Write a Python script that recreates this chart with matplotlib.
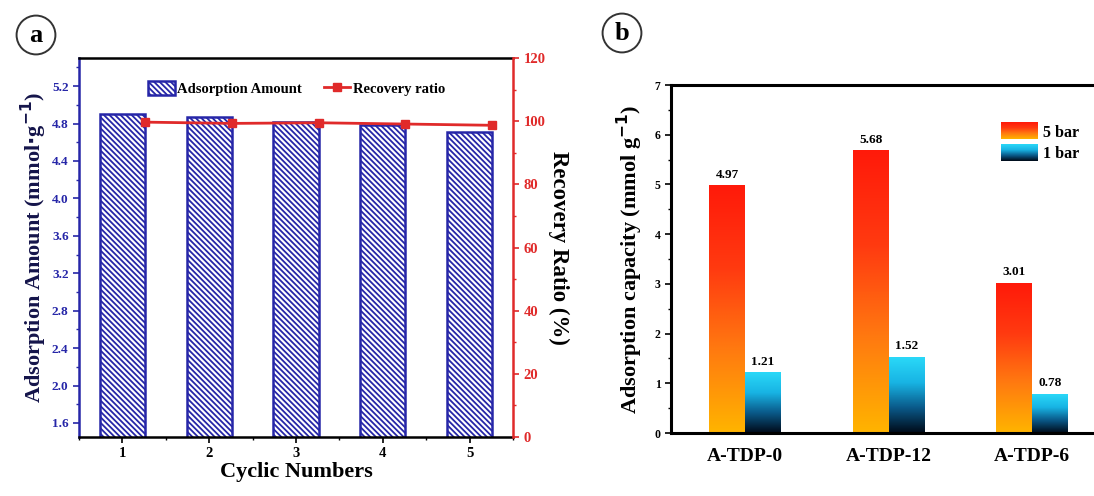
import matplotlib
matplotlib.use('Agg')
import matplotlib.pyplot as plt
import numpy as np
from matplotlib.colors import LinearSegmentedColormap
from matplotlib.patches import Patch
from matplotlib.legend_handler import HandlerBase
from matplotlib.image import BboxImage
from matplotlib.transforms import Bbox, TransformedBbox
from matplotlib.ticker import MultipleLocator

plt.rcParams['font.family'] = ['Liberation Serif', 'DejaVu Serif']
plt.rcParams['font.weight'] = 'bold'
plt.rcParams['axes.labelweight'] = 'bold'
plt.rcParams['mathtext.default'] = 'bf'
plt.rcParams['hatch.linewidth'] = 1.3

# panel a data
cycles = [1, 2, 3, 4, 5]
adsorption = [4.90, 4.87, 4.82, 4.78, 4.71]
recovery = [99.7, 99.3, 99.5, 99.1, 98.7]

# panel b data
samples = ['A-TDP-0', 'A-TDP-12', 'A-TDP-6']
cap_5bar = [4.97, 5.68, 3.01]
cap_1bar = [1.21, 1.52, 0.78]

blue = '#2626a8'
red = '#e02a2a'

cmap5 = LinearSegmentedColormap.from_list('c5', ['#ffb400', '#ff7a10', '#ff3a10', '#ff1a0a'])
cmap1 = LinearSegmentedColormap.from_list('c1', ['#000a18', '#0a5a8a', '#18b4e4', '#2ad8f8'])


class GradHandler(HandlerBase):
    def __init__(self, cmap):
        super().__init__()
        self.cmap = cmap

    def create_artists(self, legend, orig_handle, xdescent, ydescent,
                       width, height, fontsize, trans):
        bb = TransformedBbox(Bbox.from_bounds(-xdescent, -ydescent, width, height), trans)
        img = BboxImage(bb, cmap=self.cmap, interpolation='bilinear', origin='lower')
        img.set_data(np.linspace(0, 1, 64).reshape(-1, 1))
        img.set_clim(0, 1)
        return [img]


fig = plt.figure(figsize=(10.94, 4.96), dpi=100)

# ---------------- panel a ----------------
ax = fig.add_axes([0.0722, 0.119, 0.3968, 0.764])
ax.bar(cycles, adsorption, width=0.52, color='white', edgecolor=blue,
       hatch='\\' * 6, linewidth=1.8, label='Adsorption Amount', zorder=2)
ax.set_xlim(0.5, 5.5)
ax.set_ylim(1.45, 5.5)
ax.set_yticks([1.6, 2.0, 2.4, 2.8, 3.2, 3.6, 4.0, 4.4, 4.8, 5.2])
ax.yaxis.set_minor_locator(MultipleLocator(0.2))
ax.set_xticks(cycles)
ax.xaxis.set_minor_locator(MultipleLocator(0.5))
ax.tick_params(axis='y', which='both', colors=blue, labelsize=9.5)
ax.tick_params(axis='y', which='major', length=4, width=1.2)
ax.tick_params(axis='y', which='minor', length=2, width=1.0)
ax.tick_params(axis='x', which='major', length=4, width=1.2, labelsize=10.5)
ax.tick_params(axis='x', which='minor', length=2, width=1.0)
ax.spines['left'].set_color(blue)
ax.spines['left'].set_linewidth(1.8)
ax.spines['bottom'].set_linewidth(1.8)
ax.spines['top'].set_linewidth(1.8)
ax.spines['right'].set_visible(False)
ax.set_xlabel('Cyclic Numbers', fontsize=16, labelpad=1)
ax.set_ylabel('Adsorption Amount (mmol$\\cdot$g$^{-1}$)', fontsize=16,
              color='#14144a', labelpad=2)

ax2 = ax.twinx()
ax2.plot(np.array(cycles) + 0.26, recovery, color=red, marker='s', markersize=6,
         linewidth=2, label='Recovery ratio', zorder=3)
ax2.set_ylim(0, 120)
ax2.set_yticks([0, 20, 40, 60, 80, 100, 120])
ax2.yaxis.set_minor_locator(MultipleLocator(10))
ax2.tick_params(axis='y', which='both', colors=red, labelsize=10.5)
ax2.tick_params(axis='y', which='major', length=4, width=1.2)
ax2.tick_params(axis='y', which='minor', length=2, width=1.0)
for s in ['left', 'top', 'bottom']:
    ax2.spines[s].set_visible(False)
ax2.spines['right'].set_color(red)
ax2.spines['right'].set_linewidth(1.8)
ax2.set_ylabel('Recovery Ratio (%)', fontsize=16.5, rotation=270, labelpad=17)

h1, l1 = ax.get_legend_handles_labels()
h2, l2 = ax2.get_legend_handles_labels()
ax2.legend(h1 + h2, l1 + l2, ncol=2, frameon=False, fontsize=10.5,
           loc='upper left', bbox_to_anchor=(141 / 1094, 1 - 74 / 496),
           bbox_transform=fig.transFigure, borderpad=0, handlelength=1.8,
           handleheight=1.1, handletextpad=0.2, columnspacing=1.5)

# ---------------- panel b ----------------
bx = fig.add_axes([0.6133, 0.127, 0.3867, 0.7016])
xb = np.arange(len(samples))
w = 0.25
for i in range(len(samples)):
    bx.imshow(np.linspace(0, 1, 128).reshape(-1, 1), cmap=cmap5, origin='lower',
              extent=[xb[i] - w, xb[i], 0, cap_5bar[i]], aspect='auto',
              interpolation='bilinear', zorder=2)
    bx.imshow(np.linspace(0, 1, 128).reshape(-1, 1), cmap=cmap1, origin='lower',
              extent=[xb[i], xb[i] + w, 0, cap_1bar[i]], aspect='auto',
              interpolation='bilinear', zorder=2)
    bx.text(xb[i] - w / 2, cap_5bar[i] + 0.1, f'{cap_5bar[i]:.2f}', ha='center',
            va='bottom', fontsize=9.5)
    bx.text(xb[i] + w / 2, cap_1bar[i] + 0.1, f'{cap_1bar[i]:.2f}', ha='center',
            va='bottom', fontsize=9.5)
bx.set_xlim(-0.516, 2.43)
bx.set_ylim(0, 7)
bx.set_xticks(xb)
bx.set_xticklabels(samples)
bx.yaxis.set_minor_locator(MultipleLocator(0.5))
bx.tick_params(axis='x', length=0, labelsize=14, pad=11)
bx.tick_params(axis='y', which='major', length=4, width=1.2, labelsize=8.5)
bx.tick_params(axis='y', which='minor', length=2, width=1.0)
for s in ['left', 'bottom', 'top']:
    bx.spines[s].set_linewidth(2.2)
bx.spines['right'].set_visible(False)
bx.set_ylabel('Adsorption capacity (mmol g$^{-1}$)', fontsize=16, labelpad=7)

p5 = Patch(label='5 bar')
p1 = Patch(label='1 bar')
bx.legend([p5, p1], ['5 bar', '1 bar'], frameon=False, fontsize=11.5,
          loc='upper left', bbox_to_anchor=(993 / 1094, 1 - 115 / 496),
          bbox_transform=fig.transFigure, borderpad=0, handlelength=2.3,
          handleheight=1.2, handletextpad=0.3, labelspacing=0.25,
          handler_map={p5: GradHandler(cmap5), p1: GradHandler(cmap1)})

# panel labels
for x, y, t in [(36 / 1094, 1 - 35 / 496, 'a'), (622 / 1094, 1 - 33 / 496, 'b')]:
    fig.text(x, y, t, ha='center', va='center', fontsize=19,
             bbox=dict(boxstyle='circle,pad=0.3', facecolor='white',
                       edgecolor='#333333', linewidth=1.4))

fig.savefig('out.png', dpi=100)
